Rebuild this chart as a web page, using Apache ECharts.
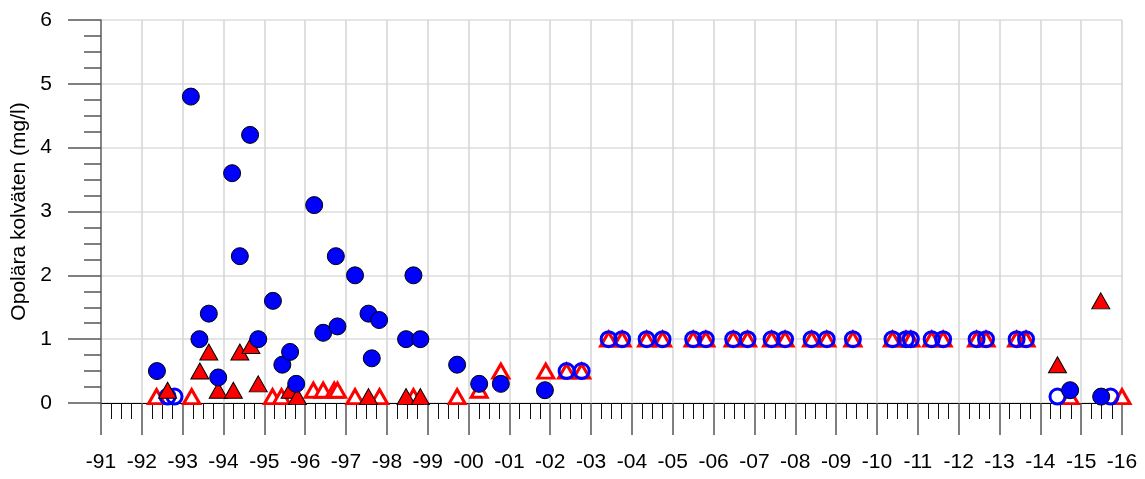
<!DOCTYPE html>
<html>
<head>
<meta charset="utf-8">
<script src="https://cdn.jsdelivr.net/npm/echarts@6/dist/echarts.min.js"></script>
<style>
html,body{margin:0;padding:0;background:#fff;}
#chart{width:1145px;height:479px;}
</style>
</head>
<body>
<div id="chart"></div>
<script>
// Tick labels
const xTickLabels = ['-91','-92','-93','-94','-95','-96','-97','-98','-99','-00','-01','-02','-03','-04','-05','-06','-07','-08','-09','-10','-11','-12','-13','-14','-15','-16'];
const yTickLabels = ['0','1','2','3','4','5','6'];
const yAxisName = 'Opolära kolväten (mg/l)';

// Blue filled circles (measured)
const blueFilledX = [1992.37,1993.20,1993.41,1993.64,1993.87,1994.21,1994.40,1994.65,1994.85,1995.21,1995.44,1995.63,1995.78,1996.22,1996.44,1996.75,1996.79,1997.22,1997.55,1997.63,1997.81,1998.47,1998.65,1998.82,1999.72,2000.26,2000.79,2001.87,2014.73,2015.49];
const blueFilledY = [0.5,4.8,1.0,1.4,0.4,3.6,2.3,4.2,1.0,1.6,0.6,0.8,0.3,3.1,1.1,2.3,1.2,2.0,1.4,0.7,1.3,1.0,2.0,1.0,0.6,0.3,0.3,0.2,0.2,0.1];

// Blue open circles
const blueOpenX = [1992.63,1992.80,2002.40,2002.77,2003.43,2003.76,2004.36,2004.75,2005.50,2005.81,2006.48,2006.83,2007.42,2007.75,2008.40,2008.77,2009.41,2010.38,2010.71,2010.83,2011.34,2011.62,2012.44,2012.67,2013.42,2013.65,2014.42,2015.72];
const blueOpenY = [0.1,0.1,0.5,0.5,1.0,1.0,1.0,1.0,1.0,1.0,1.0,1.0,1.0,1.0,1.0,1.0,1.0,1.0,1.0,1.0,1.0,1.0,1.0,1.0,1.0,1.0,0.1,0.1];

// Red filled triangles
const redFilledX = [1992.63,1993.42,1993.64,1993.87,1994.24,1994.40,1994.67,1994.85,1995.63,1995.81,1997.55,1998.47,1998.82,2014.42,2015.48];
const redFilledY = [0.2,0.5,0.8,0.2,0.2,0.8,0.9,0.3,0.2,0.1,0.1,0.1,0.1,0.6,1.6];

// Red open triangles
const redOpenX = [1992.36,1993.22,1995.20,1995.42,1996.20,1996.44,1996.71,1996.79,1997.22,1997.82,1998.65,1999.72,2000.26,2000.79,2001.89,2002.40,2002.77,2003.43,2003.76,2004.36,2004.75,2005.50,2005.81,2006.48,2006.83,2007.42,2007.75,2008.40,2008.77,2009.41,2010.38,2010.71,2010.83,2011.34,2011.62,2012.44,2012.67,2013.42,2013.65,2014.73,2016.0];
const redOpenY = [0.1,0.1,0.1,0.1,0.2,0.2,0.2,0.2,0.1,0.1,0.1,0.1,0.2,0.5,0.5,0.5,0.5,1.0,1.0,1.0,1.0,1.0,1.0,1.0,1.0,1.0,1.0,1.0,1.0,1.0,1.0,1.0,1.0,1.0,1.0,1.0,1.0,1.0,1.0,0.1,0.1];

const zip = (xs, ys) => xs.map((x, i) => [x, ys[i]]);
const FONT = '"Liberation Sans", Arial, sans-serif';

const chart = echarts.init(document.getElementById('chart'), null, {renderer: 'canvas'});
chart.setOption({
  animation: false,
  backgroundColor: '#ffffff',
  grid: {left: 101, right: 23, top: 20, bottom: 76, containLabel: false, outerBoundsMode: 'none'},
  xAxis: {
    type: 'value', min: 1991, max: 2016, interval: 1,
    axisLine: {show: true, onZero: false, lineStyle: {color: '#000', width: 1}},
    axisTick: {show: true, length: 32, lineStyle: {color: '#555', width: 1.5}},
    minorTick: {show: true, splitNumber: 4, length: 16, lineStyle: {color: '#111', width: 1}},
    splitLine: {show: true, lineStyle: {color: '#d4d4d4', width: 1.5}},
    minorSplitLine: {show: false},
    axisLabel: {
      margin: 49, fontSize: 21, color: '#000', fontFamily: FONT,
      formatter: v => xTickLabels[Math.round(v - 1991)]
    }
  },
  yAxis: {
    type: 'value', min: 0, max: 6, interval: 1,
    name: yAxisName, nameLocation: 'middle', nameGap: 70, nameRotate: 90,
    nameTextStyle: {fontSize: 21, color: '#000', fontFamily: FONT},
    axisLine: {show: true, lineStyle: {color: '#666', width: 1.5}},
    axisTick: {show: true, length: 33, lineStyle: {color: '#555', width: 1.5}},
    minorTick: {show: true, splitNumber: 4, length: 17, lineStyle: {color: '#555', width: 1.5}},
    splitLine: {show: true, lineStyle: {color: '#dcdcdc', width: 1.5}},
    axisLabel: {
      margin: 49, fontSize: 21, color: '#000', fontFamily: FONT,
      formatter: v => yTickLabels[Math.round(v)]
    }
  },
  series: [
    {
      name: 'redOpen', type: 'scatter', z: 1,
      symbol: 'triangle', symbolSize: [16, 14],
      itemStyle: {color: '#ffffff', borderColor: '#ff0000', borderWidth: 3, borderJoin: 'miter', opacity: 1},
      data: zip(redOpenX, redOpenY)
    },
    {
      name: 'blueOpen', type: 'scatter', z: 2,
      symbol: 'circle', symbolSize: 15,
      itemStyle: {color: 'rgba(0,0,0,0)', borderColor: '#0000ff', borderWidth: 3, opacity: 1},
      data: zip(blueOpenX, blueOpenY)
    },
    {
      name: 'redFilled', type: 'scatter', z: 3,
      symbol: 'triangle', symbolSize: [18, 16],
      itemStyle: {color: '#ff0000', borderColor: '#000', borderWidth: 1, opacity: 1},
      data: zip(redFilledX, redFilledY)
    },
    {
      name: 'blueFilled', type: 'scatter', z: 4,
      symbol: 'circle', symbolSize: 17,
      itemStyle: {color: '#0000ff', borderColor: '#000', borderWidth: 1, opacity: 1},
      data: zip(blueFilledX, blueFilledY)
    }
  ]
});
</script>
</body>
</html>
